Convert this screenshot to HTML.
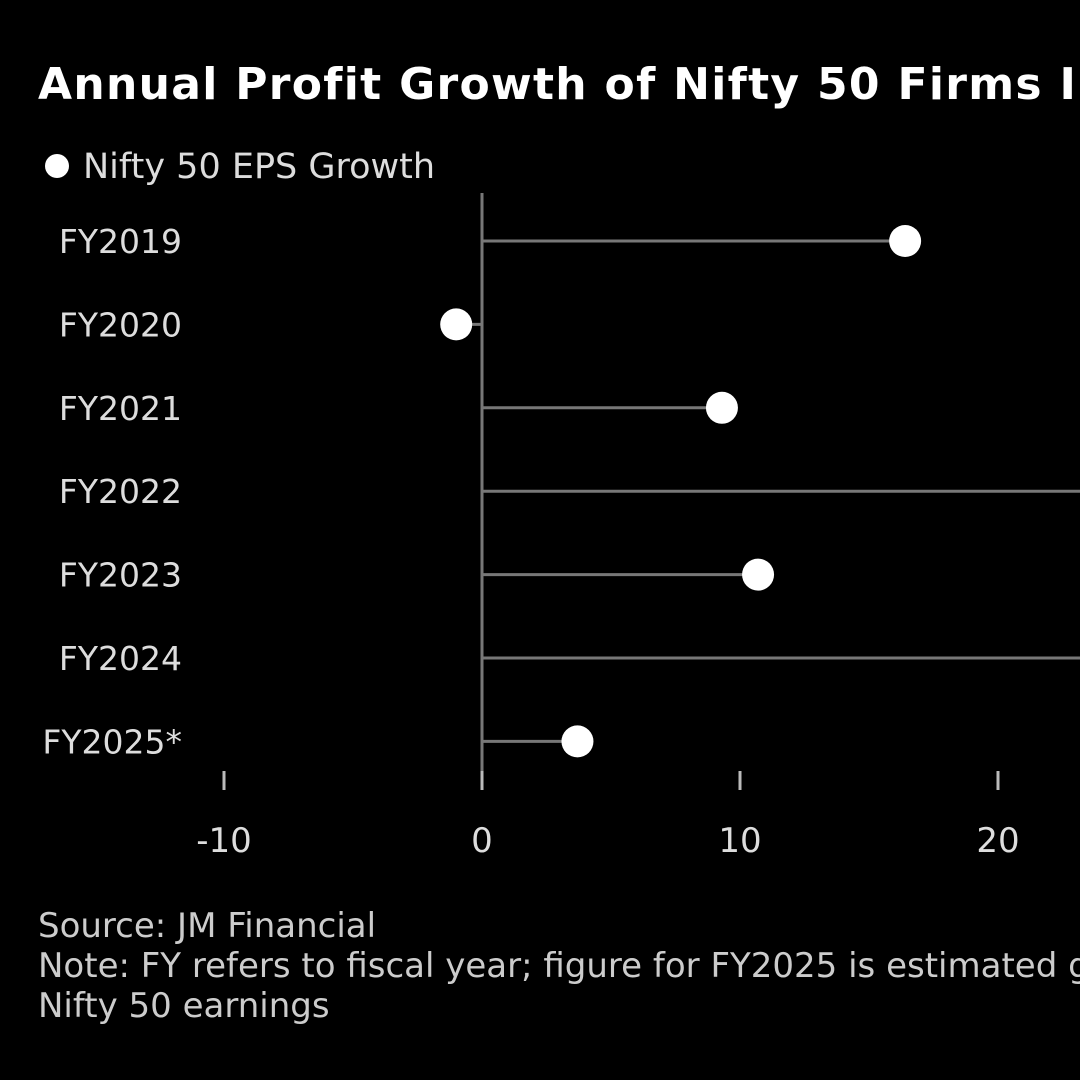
<!DOCTYPE html>
<html><head><meta charset="utf-8"><style>
html,body{margin:0;padding:0;background:#000;width:1080px;height:1080px;overflow:hidden}
svg{display:block}
text{font-family:"DejaVu Sans","Liberation Sans",sans-serif}
</style></head><body>
<svg id="chart" width="1080" height="1080">
<text x="38" y="99" fill="#fff" font-size="44" font-weight="bold" letter-spacing="1.3">Annual Profit Growth of Nifty 50 Firms In India</text>
<circle cx="57" cy="166" r="12" fill="#fff"/>
<text x="83" y="178" fill="#ddd" font-size="35">Nifty 50 EPS Growth</text>
<g id="plot"></g>
<text x="38" y="937" fill="#ccc" font-size="34">Source: JM Financial</text>
<text x="38" y="977" fill="#ccc" font-size="34">Note: FY refers to fiscal year; figure for FY2025 is estimated growth of</text>
<text x="38" y="1017" fill="#ccc" font-size="34">Nifty 50 earnings</text>
</svg>
<script>
const categories=["FY2019","FY2020","FY2021","FY2022","FY2023","FY2024","FY2025*"];
const values=[16.4,-1.0,9.3,34,10.7,26,3.7];
const ticks=[-10,0,10,20,30];
const tickLabels=["-10","0","10","20","30"];
const x=v=>482+v*25.8;
const y=i=>241+i*83.4;
const ns="http://www.w3.org/2000/svg";
const g=document.getElementById('plot');
function mk(t,a){const e=document.createElementNS(ns,t);for(const k in a)e.setAttribute(k,a[k]);g.appendChild(e);return e;}
const ax=mk('line',{x1:x(0),x2:x(0),y1:193,y2:790,stroke:'#777','stroke-width':3});


ticks.forEach((t,i)=>{
 const l=mk('line',{x1:x(t),x2:x(t),y1:771,y2:790,stroke:'#bbb','stroke-width':3});
 
 
 const tx=mk('text',{x:x(t),y:852,fill:'#ddd','font-size':34,'text-anchor':'middle'});
 tx.textContent=tickLabels[i];
 
 
});
categories.forEach((c,i)=>{
 const yy=y(i);
 const lab=mk('text',{x:182,y:yy+12,fill:'#ddd','font-size':33,'text-anchor':'end'});
 lab.textContent=c;
 
 
 const st=mk('line',{x1:x(0),x2:x(values[i]),y1:yy,y2:yy,stroke:'#777','stroke-width':3});
 
 
 const d=mk('circle',{cx:x(values[i]),cy:yy,r:16,fill:'#fff'});
 
 
});
</script>
</body></html>
